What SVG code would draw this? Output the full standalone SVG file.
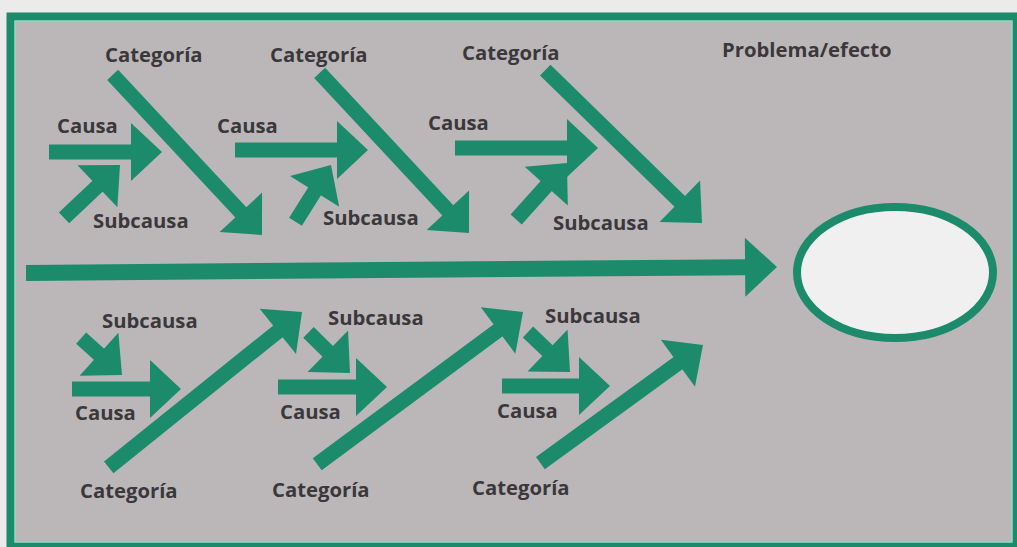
<svg xmlns="http://www.w3.org/2000/svg" xmlns:xlink="http://www.w3.org/1999/xlink" width="1017" height="547" viewBox="0 0 1017 547">
  <style>
    .lbl { font-family: "Open Sans", "Liberation Sans", sans-serif; font-weight: 700; font-size: 20.3px; fill: #3b383c; }
    .arw { fill: #1b8b6c; }
    .edge { fill: none; stroke: #7fe3c2; stroke-width: 1.2; }
  </style>
  <defs>
    <!-- arrowhead, tip at the origin, pointing along +x -->
    <path id="head" d="M0,0 L-31,-29 L-31,29 Z"/>
  </defs>

  <!-- paper and framed panel -->
  <rect x="0" y="0" width="1017" height="547" fill="#ecebeb"/>
  <rect x="10.5" y="16.5" width="1006" height="530" fill="#bbb7b8" stroke="#1b8b6c" stroke-width="8"/>
  <rect x="15" y="21" width="997" height="521" class="edge"/>

  <!-- connectors: spine, category bones, cause and sub-cause arrows -->
  <g id="connectors" class="arw">
    <!-- spine -->
    <g transform="translate(777,267) rotate(-0.45)"><rect x="-751" y="-8" width="720" height="16"/><use href="#head" transform="scale(1.03,1.02)"/></g>

    <!-- upper categories -->
    <g transform="translate(262,235) rotate(47)"><rect x="-219" y="-7.5" width="189" height="15"/><use href="#head"/></g>
    <g transform="translate(469,233) rotate(47)"><rect x="-219" y="-7.5" width="189" height="15"/><use href="#head"/></g>
    <g transform="translate(702,223) rotate(44.3)"><rect x="-219" y="-7.5" width="189" height="15"/><use href="#head"/></g>

    <!-- upper causes -->
    <g transform="translate(162,152)"><rect x="-113" y="-7.5" width="83" height="15"/><use href="#head"/></g>
    <g transform="translate(368,150)"><rect x="-133" y="-7.5" width="103" height="15"/><use href="#head"/></g>
    <g transform="translate(598,148)"><rect x="-143" y="-7.5" width="113" height="15"/><use href="#head"/></g>

    <!-- upper sub-causes -->
    <g transform="translate(120,165) rotate(-43.4)"><rect x="-77" y="-7.5" width="47" height="15"/><use href="#head"/></g>
    <g transform="translate(331,165) rotate(-58)"><rect x="-67" y="-7.5" width="37" height="15"/><use href="#head"/></g>
    <g transform="translate(567,163) rotate(-48)"><rect x="-76" y="-7.5" width="46" height="15"/><use href="#head"/></g>

    <!-- lower sub-causes -->
    <g transform="translate(122,375) rotate(42)"><rect x="-55" y="-7.5" width="25" height="15"/><use href="#head"/></g>
    <g transform="translate(350,373) rotate(44.3)"><rect x="-58" y="-7.5" width="28" height="15"/><use href="#head"/></g>
    <g transform="translate(570,372) rotate(43.6)"><rect x="-58" y="-7.5" width="28" height="15"/><use href="#head"/></g>

    <!-- lower causes -->
    <g transform="translate(181,389)"><rect x="-109" y="-7.5" width="79" height="15"/><use href="#head"/></g>
    <g transform="translate(387,387)"><rect x="-109" y="-7.5" width="79" height="15"/><use href="#head"/></g>
    <g transform="translate(610,386)"><rect x="-108" y="-7.5" width="78" height="15"/><use href="#head"/></g>

    <!-- lower categories -->
    <g transform="translate(302,312) rotate(-38.8)"><rect x="-248" y="-7.5" width="218" height="15"/><use href="#head"/></g>
    <g transform="translate(523,312) rotate(-36.5)"><rect x="-256" y="-7.5" width="226" height="15"/><use href="#head"/></g>
    <g transform="translate(703,345) rotate(-36)"><rect x="-201" y="-7.5" width="171" height="15"/><use href="#head"/></g>
  </g>

  <!-- effect -->
  <g id="effect">
    <ellipse cx="895" cy="272.5" rx="98" ry="65.5" fill="#f1f0f0" stroke="#1b8b6c" stroke-width="8"/>
    <text class="lbl" x="722" y="57">Problema/efecto</text>
  </g>

  <!-- upper branches -->
  <g id="branch-u1">
    <text class="lbl" x="105" y="62">Categoría</text>
    <text class="lbl" x="57" y="133">Causa</text>
    <text class="lbl" x="93" y="228">Subcausa</text>
  </g>
  <g id="branch-u2">
    <text class="lbl" x="270" y="62">Categoría</text>
    <text class="lbl" x="217" y="133">Causa</text>
    <text class="lbl" x="323" y="225">Subcausa</text>
  </g>
  <g id="branch-u3">
    <text class="lbl" x="462" y="60">Categoría</text>
    <text class="lbl" x="428" y="130">Causa</text>
    <text class="lbl" x="553" y="230">Subcausa</text>
  </g>

  <!-- lower branches -->
  <g id="branch-l1">
    <text class="lbl" x="102" y="328">Subcausa</text>
    <text class="lbl" x="75" y="420">Causa</text>
    <text class="lbl" x="80" y="498">Categoría</text>
  </g>
  <g id="branch-l2">
    <text class="lbl" x="328" y="325">Subcausa</text>
    <text class="lbl" x="280" y="419">Causa</text>
    <text class="lbl" x="272" y="497">Categoría</text>
  </g>
  <g id="branch-l3">
    <text class="lbl" x="545" y="323">Subcausa</text>
    <text class="lbl" x="497" y="418">Causa</text>
    <text class="lbl" x="472" y="495">Categoría</text>
  </g>
</svg>
